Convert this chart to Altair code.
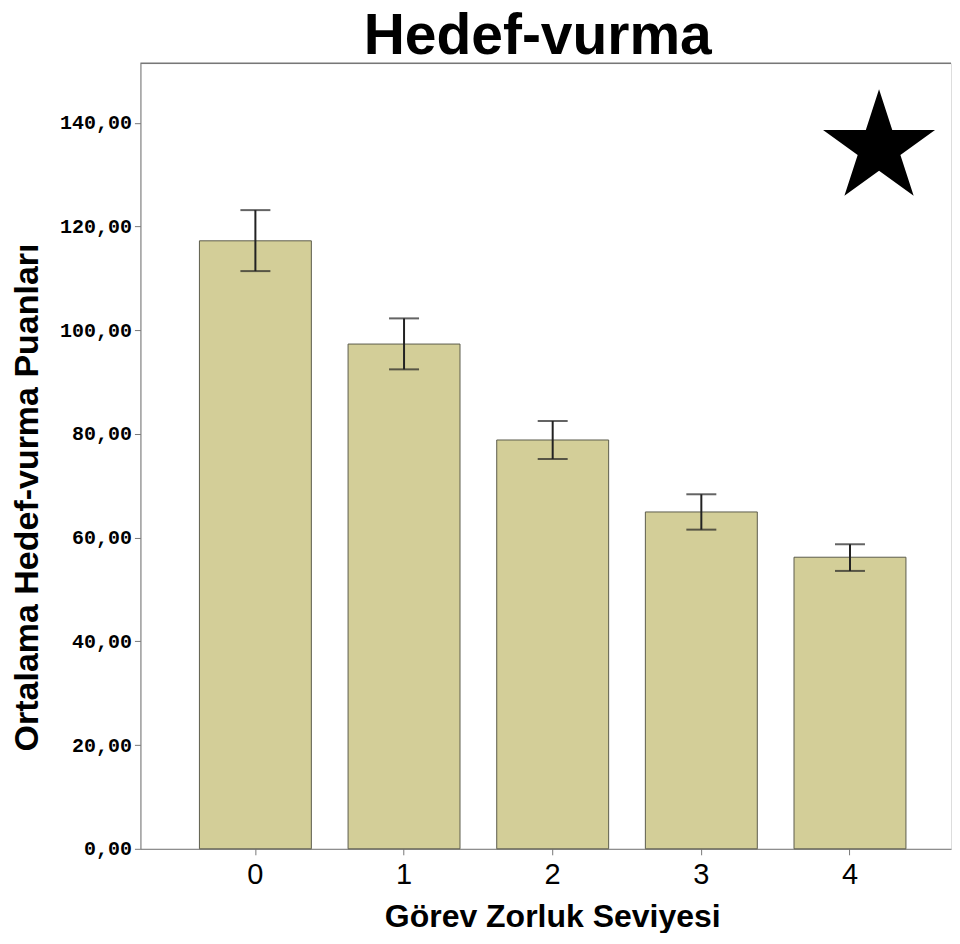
import altair as alt
import pandas as pd

categories = ["0", "1", "2", "3", "4"]
means = [117.25, 97.34, 78.84, 64.96, 56.23]
upper = [123.17, 102.29, 82.50, 68.37, 58.73]
lower = [111.41, 92.46, 75.17, 61.55, 53.59]
y_ticks = [0, 20, 40, 60, 80, 100, 120, 140]
y_max = 151.5

title_text = "Hedef-vurma"
x_title = "Görev Zorluk Seviyesi"
y_title = "Ortalama Hedef-vurma Puanları"

df = pd.DataFrame({"cat": categories, "mean": means, "upper": upper, "lower": lower})

W = 811
H = 786

x_enc = alt.X(
    "cat:N",
    sort=categories,
    scale=alt.Scale(paddingInner=0.247, paddingOuter=0.35, align=0.567),
    axis=alt.Axis(
        title=x_title,
        labelAngle=0,
        labelFont="Liberation Sans",
        labelFontSize=29,
        labelColor="#000000",
        labelPadding=6,
        tickSize=6,
        tickColor="#777777",
        domainColor="#777777",
        titleFont="Liberation Sans",
        titleFontSize=32,
        titleFontWeight="bold",
        titleColor="#000000",
        titlePadding=12,
        titleX=412,
    ),
)

y_enc = alt.Y(
    "mean:Q",
    scale=alt.Scale(domain=[0, y_max], nice=False, zero=True),
    axis=alt.Axis(
        title=y_title,
        values=y_ticks,
        labelExpr="replace(format(datum.value, '.2f'), '.', ',')",
        labelFont="Liberation Mono",
        labelFontWeight="bold",
        labelFontSize=20,
        labelColor="#000000",
        labelPadding=3,
        tickSize=6,
        tickColor="#777777",
        domainColor="#777777",
        grid=False,
        titleFont="Liberation Sans",
        titleFontSize=34,
        titleFontWeight="bold",
        titleColor="#000000",
        titlePadding=14.5,
        titleY=434,
    ),
)

base = alt.Chart(df)

bars = base.mark_bar(color="#d3ce98", stroke="#5c5c4c", strokeWidth=1).encode(x=x_enc, y=y_enc)

err = base.mark_rule(color="#222222", strokeWidth=2).encode(
    x=alt.X("cat:N", sort=categories), y=alt.Y("lower:Q"), y2="upper:Q"
)
cap_top = base.mark_tick(color="#222222", thickness=2, size=30).encode(
    x=alt.X("cat:N", sort=categories), y=alt.Y("upper:Q")
)
cap_bot = base.mark_tick(color="#222222", thickness=2, size=30).encode(
    x=alt.X("cat:N", sort=categories), y=alt.Y("lower:Q")
)

top_border = alt.Chart(pd.DataFrame({"v": [y_max]})).mark_rule(
    color="#777777", strokeWidth=1.5
).encode(y=alt.Y("v:Q"), x=alt.value(0), x2=alt.value(W))

star_path = (
    "M0,-1L0.2245,-0.309L0.951,-0.309L0.363,0.118L0.588,0.809L0,0.382"
    "L-0.588,0.809L-0.363,0.118L-0.951,-0.309L-0.2245,-0.309Z"
)
star = alt.Chart(pd.DataFrame({"s": [1]})).mark_point(
    shape=star_path, filled=True, color="#000000", opacity=1, size=13877, strokeWidth=0
).encode(x=alt.value(739), y=alt.value(85))

chart = (
    alt.layer(bars, err, cap_top, cap_bot, top_border, star)
    .properties(
        width=W,
        height=H,
        padding={"left": 2.5, "top": 0, "right": 0, "bottom": 0},
        title=alt.TitleParams(
            text=title_text,
            font="Liberation Sans",
            fontSize=57,
            fontWeight="bold",
            color="#000000",
            anchor="middle",
            offset=-4,
            dx=-8,
        ),
    )
    .configure_view(fill="#efefef", stroke=None)
    .configure(background="#ffffff")
)

chart.save("out.html", embed_options={"renderer": "svg", "actions": False})
